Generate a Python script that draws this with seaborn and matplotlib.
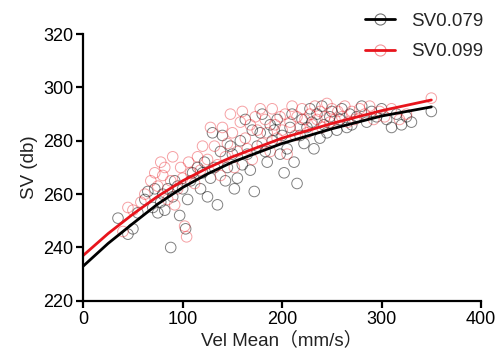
import pandas as pd
import seaborn as sns
import matplotlib.pyplot as plt
from matplotlib.lines import Line2D

# scatter data
sv079_x = [35, 45, 50, 55, 62, 65, 70, 72, 75, 78, 80, 82, 85, 88, 90, 92, 95, 97, 100, 103,
           105, 108, 110, 115, 118, 120, 122, 125, 128, 130, 132, 135, 138, 140, 143, 145, 148, 150, 152, 155,
           158, 160, 163, 165, 168, 170, 172, 175, 178, 180, 183, 185, 188, 190, 192, 195, 198, 200, 202, 205,
           208, 210, 212, 215, 218, 220, 222, 225, 228, 230, 232, 235, 238, 240, 242, 245, 248, 250, 255, 258,
           260, 265, 268, 270, 275, 280, 285, 290, 295, 300, 305, 310, 315, 320, 325, 330, 350]
sv079_y = [251, 245, 247, 253, 258, 261, 255, 262, 253, 257, 260, 254, 262, 240, 259, 265, 263, 252, 262, 247,
           258, 265, 268, 270, 262, 268, 272, 259, 266, 283, 270, 256, 276, 282, 265, 270, 278, 275, 262, 266,
           280, 271, 288, 275, 269, 284, 261, 278, 283, 290, 276, 272, 286, 280, 284, 288, 275, 282, 268, 277,
           285, 290, 272, 264, 282, 288, 279, 285, 292, 287, 277, 290, 281, 293, 286, 283, 289, 291, 284, 288,
           292, 285, 290, 286, 289, 293, 287, 291, 289, 292, 288, 285, 290, 286, 289, 287, 291]

sv099_x = [40, 45, 50, 58, 62, 68, 72, 75, 78, 80, 82, 85, 88, 90, 92, 95, 98, 100, 102, 104,
           106, 108, 112, 115, 118, 120, 125, 128, 132, 135, 138, 140, 143, 145, 148, 150, 152, 155, 158, 160,
           163, 165, 168, 170, 173, 175, 178, 180, 183, 185, 188, 190, 193, 195, 198, 200, 203, 205, 208, 210,
           213, 215, 218, 220, 223, 225, 228, 230, 233, 235, 238, 240, 243, 245, 248, 250, 253, 256, 260, 263,
           266, 270, 273, 278, 283, 288, 292, 298, 303, 310, 318, 325, 350]
sv099_y = [246, 255, 254, 257, 260, 265, 268, 263, 272, 267, 270, 258, 265, 274, 256, 262, 270, 266, 248, 244,
           272, 268, 264, 274, 269, 278, 273, 285, 278, 271, 267, 285, 274, 279, 290, 283, 270, 276, 287, 291,
           281, 277, 286, 273, 289, 284, 292, 279, 288, 283, 276, 292, 286, 281, 289, 284, 290, 275, 287, 293,
           282, 289, 285, 292, 288, 283, 290, 286, 293, 288, 291, 285, 289, 294, 287, 292, 288, 291, 289, 293,
           287, 291, 288, 292, 290, 293, 288, 291, 289, 292, 288, 290, 296]

# fitted curves
curve_x = [0, 25, 50, 75, 100, 125, 150, 200, 250, 300, 350]
curve_079 = [233, 241.5, 249, 256.3, 262.5, 267.6, 272, 279, 284.5, 289.3, 292.7]
curve_099 = [237, 245.2, 252.5, 259.2, 265, 269.8, 274, 281, 286.5, 291.3, 295.3]

black = "#000000"
red = "#e8141c"

sns.set_theme(style="white")
plt.rcParams['font.family'] = ['Liberation Sans', 'Noto Sans CJK JP', 'DejaVu Sans']

fig = plt.figure(figsize=(4.98, 3.59), dpi=100)
ax = fig.add_axes([0.167, 0.162, 0.799, 0.743])

sns.scatterplot(x=sv079_x, y=sv079_y, s=58, facecolor='none', edgecolor=black,
                linewidth=0.7, alpha=0.5, ax=ax)
sns.scatterplot(x=sv099_x, y=sv099_y, s=58, facecolor='none', edgecolor=red,
                linewidth=0.7, alpha=0.4, ax=ax)
sns.lineplot(x=curve_x, y=curve_079, color=black, linewidth=2, ax=ax)
sns.lineplot(x=curve_x, y=curve_099, color=red, linewidth=2, ax=ax)

ax.set_xlim(0, 400)
ax.set_ylim(220, 320)
ax.set_xticks([0, 100, 200, 300, 400])
ax.set_yticks([220, 240, 260, 280, 300, 320])
sns.despine(ax=ax)
for sp in ['left', 'bottom']:
    ax.spines[sp].set_linewidth(1.6)
    ax.spines[sp].set_color('black')
ax.tick_params(axis='both', direction='out', length=5, width=1.6, labelsize=13,
               colors='black', left=True, bottom=True, pad=2)
ax.set_xlabel('Vel Mean（mm/s）', fontsize=13.5, color='#222222', labelpad=3)
ax.set_ylabel('SV (db)', fontsize=13.5, color='#222222', labelpad=4)

handles = [
    Line2D([], [], color=black, lw=2, marker='o', markersize=8, markerfacecolor='none',
           markeredgewidth=0.8, markeredgecolor=(0, 0, 0, 0.55)),
    Line2D([], [], color=red, lw=2, marker='o', markersize=8, markerfacecolor='none',
           markeredgewidth=0.8, markeredgecolor=(0.91, 0.08, 0.11, 0.45)),
]
fig.legend(handles, ['SV0.079', 'SV0.099'], loc='upper left', bbox_to_anchor=(0.733, 0.965),
           frameon=False, fontsize=13.5, handlelength=1.6, handletextpad=0.85,
           labelspacing=0.72, borderpad=0, borderaxespad=0)

fig.savefig('out.png', dpi=100)
